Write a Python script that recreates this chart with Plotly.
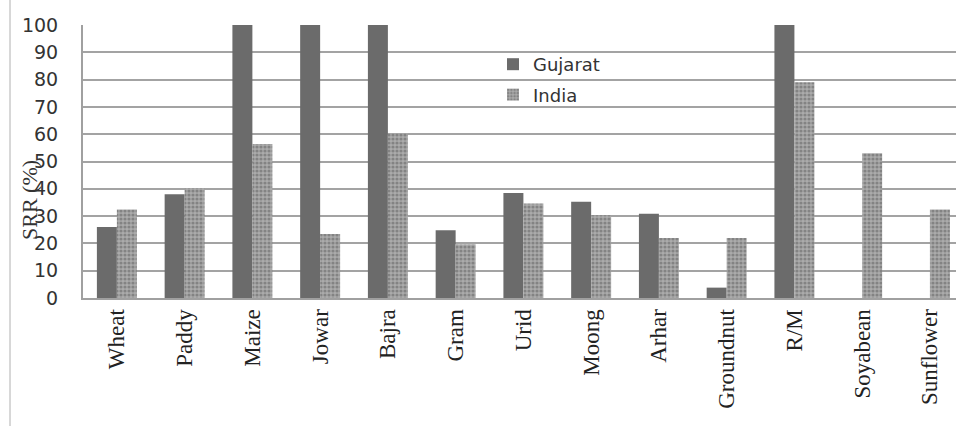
import plotly.graph_objects as go

categories = ["Wheat", "Paddy", "Maize", "Jowar", "Bajra", "Gram", "Urid", "Moong",
              "Arhar", "Groundnut", "R/M", "Soyabean", "Sunflower"]
gujarat = [26, 38, 100, 100, 100, 24.8, 38.5, 35.3, 30.9, 3.8, 100, 0, 0]
india = [32.4, 40.3, 56.4, 23.4, 60.3, 19.7, 34.6, 30.3, 22, 22, 79, 53, 32.4]
y_ticks = [0, 10, 20, 30, 40, 50, 60, 70, 80, 90, 100]

W, H = 956, 426
L, R, T, B = 83, 0, 25, 128
pw = W - L - R
ph = H - T - B

fig = go.Figure()
fig.add_trace(go.Bar(
    x=categories, y=gujarat, name="Gujarat", legendgroup="g1",
    marker=dict(color="#6b6b6b", line=dict(width=0)),
))
fig.add_trace(go.Bar(
    x=categories, y=india, name="India", legendgroup="g2",
    marker=dict(color="#a8a8a8", line=dict(width=0),
                pattern=dict(shape=".", fgcolor="#5c5c5c", bgcolor="#ababab",
                             size=4, solidity=0.5, fillmode="overlay")),
))

fig.update_layout(
    width=W, height=H,
    margin=dict(l=L, r=R, t=T, b=B),
    paper_bgcolor="white", plot_bgcolor="white",
    barmode="group", bargap=0.41, bargroupgap=0,
    font=dict(family="DejaVu Sans", size=18, color="#333333"),
    showlegend=True,
    legend=dict(x=(493 - L) / pw, y=(298 - 46) / ph, xanchor="left", yanchor="top",
                bgcolor="rgba(0,0,0,0)", font=dict(family="DejaVu Sans", size=18, color="#333"),
                tracegroupgap=4),
    xaxis=dict(
        range=[-0.5, 12.385], showgrid=False, showline=True, linecolor="#a0a0a0", linewidth=2,
        tickangle=-90, ticks="", ticklabelstandoff=0,
        tickfont=dict(family="Liberation Serif", size=23, color="#222"),
    ),
    yaxis=dict(
        range=[0, 100], tickvals=y_ticks, showgrid=True, gridcolor="#a3a3a3", gridwidth=2,
        showline=True, linecolor="#a0a0a0", linewidth=2, zeroline=False,
        ticks="", ticklabelstandoff=19,
        tickfont=dict(family="DejaVu Sans", size=19, color="#333"),
    ),
)

fig.add_annotation(
    text="SRR (%)", xref="paper", yref="paper",
    x=(30 - L) / pw, y=(298 - 200) / ph, xanchor="center", yanchor="middle",
    showarrow=False, textangle=-90,
    font=dict(family="Liberation Serif", size=22, color="#333"),
)
fig.add_shape(type="line", xref="paper", yref="paper",
              x0=(10 - L) / pw, x1=(10 - L) / pw, y0=-B / ph, y1=(ph + T) / ph,
              line=dict(color="#b0b0b0", width=1))

fig.write_html("out.html")
